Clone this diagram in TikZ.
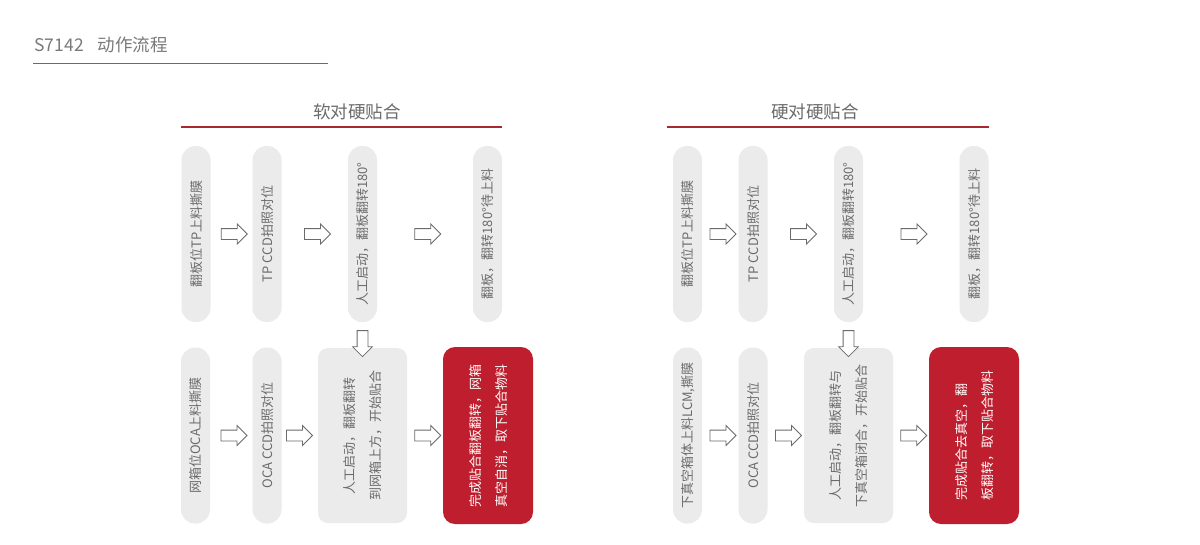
\documentclass[tikz,border=0pt]{standalone}
\usepackage{fontspec}
\setmainfont{Noto Sans CJK SC}
\usetikzlibrary{shapes.arrows}
\usetikzlibrary{calc}
\definecolor{txtgray}{HTML}{6B6B6B}
\definecolor{pillgray}{HTML}{EBEBEB}
\definecolor{boxred}{HTML}{BE1E2D}
\definecolor{linered}{HTML}{A8282E}
\newcommand{\vtext}[2][c]{\rotatebox{90}{\begin{tabular}{@{}#1@{}}#2\end{tabular}}}
\tikzset{x=1pt, y=-1pt,
pill/.style={ % tall gray step
rectangle, rounded corners=14pt,
fill=pillgray, text=txtgray, inner sep=0pt,
minimum width=29pt, minimum height=176pt,
font=\fontsize{13}{26}\selectfont},
wbox/.style={pill, rounded corners=10pt, % wide gray step
minimum width=89pt, minimum height=175pt},
rbox/.style={wbox, rounded corners=12pt, % last step
fill=boxred, text=white,
minimum width=90pt, minimum height=177pt},
harrow/.style={ % hollow step arrow
single arrow, draw=txtgray, fill=white, line width=0.8pt,
inner xsep=0pt, inner ysep=5pt, minimum height=26pt,
single arrow head extend=4.5pt, single arrow head indent=0pt},
varrow/.style={harrow, shape border rotate=270, % pointing down
inner xsep=5pt, inner ysep=0pt, anchor=tail},
heading/.style={text=txtgray, font=\fontsize{17.5}{20}\selectfont},
headline/.style={draw=linered, line width=2.2pt}}

\begin{document}
\begin{tikzpicture}
\path[fill=white, use as bounding box] (0,0) rectangle (1200,544);
% title
\node[heading, anchor=west, text=txtgray!90] (title) at (31,45) {S7142\hspace{14pt}动作流程};
\draw[txtgray, line width=0.9pt] (33,63) -- (328,63);
% soft to hard
\node[heading] (h1) at (357,112) {软对硬贴合};
\draw[headline] (181,127) -- (502,127);
\node[pill] (s1) at (196,234) {\vtext{翻板位TP上料撕膜}};
\node[pill] (s2) at (267,234) {\vtext{TP CCD拍照对位}};
\node[pill] (s3) at (362.5,234) {\vtext{人工启动，翻板翻转180°}};
\node[pill] (s4) at (487.5,234) {\vtext{翻板，翻转180°待上料}};
\node[pill] (s5) at (195.5,435.5) {\vtext{网箱位OCA上料撕膜}};
\node[pill] (s6) at (267,435.5) {\vtext{OCA CCD拍照对位}};
\node[wbox] (s7) at (362.5,435.5) {\vtext{人工启动，翻板翻转\\到网箱上方，开始贴合}};
\node[rbox] (s8) at (488,435.5) {\vtext[l]{完成贴合翻板翻转，网箱\\真空自消，取下贴合物料}};
\node[harrow] (sa1) at ($(s1.east)!0.5!(s2.west)$) {};
\node[harrow] (sa2) at ($(s2.east)!0.5!(s3.west)$) {};
\node[harrow] (sa3) at ($(s3.east)!0.5!(s4.west)$) {};
\node[harrow] (sa5) at ($(s5.east)!0.5!(s6.west)$) {};
\node[harrow] (sa6) at ($(s6.east)!0.5!(s7.west)+(-3,0)$) {};
\node[harrow] (sa7) at ($(s7.east)!0.5!(s8.west)$) {};
\node[varrow] (sad) at ($(s3.south)+(0,8)$) {};
% hard to hard
\node[heading] (h2) at (815,112) {硬对硬贴合};
\draw[headline] (667,127) -- (989,127);
\node[pill] (r1) at (687.5,234) {\vtext{翻板位TP上料撕膜}};
\node[pill] (r2) at (753,234) {\vtext{TP CCD拍照对位}};
\node[pill] (r3) at (848.5,234) {\vtext{人工启动，翻板翻转180°}};
\node[pill] (r4) at (974,234) {\vtext{翻板，翻转180°待上料}};
\node[pill] (r5) at (687.5,435.5) {\vtext{下真空箱体上料LCM,撕膜}};
\node[pill] (r6) at (753,435.5) {\vtext{OCA CCD拍照对位}};
\node[wbox] (r7) at (848.5,435.5) {\vtext{人工启动，翻板翻转与\\下真空箱闭合，开始贴合}};
\node[rbox] (r8) at (974,435.5) {\vtext[l]{完成贴合去真空，翻\\板翻转，取下贴合物料}};
\node[harrow] (ra1) at ($(r1.east)!0.5!(r2.west)$) {};
\node[harrow] (ra2) at ($(r2.east)!0.5!(r3.west)$) {};
\node[harrow] (ra3) at ($(r3.east)!0.5!(r4.west)$) {};
\node[harrow] (ra5) at ($(r5.east)!0.5!(r6.west)$) {};
\node[harrow] (ra6) at ($(r6.east)!0.5!(r7.west)$) {};
\node[harrow] (ra7) at ($(r7.east)!0.5!(r8.west)$) {};
\node[varrow] (rad) at ($(r3.south)+(0,8)$) {};
\end{tikzpicture}
\end{document}
